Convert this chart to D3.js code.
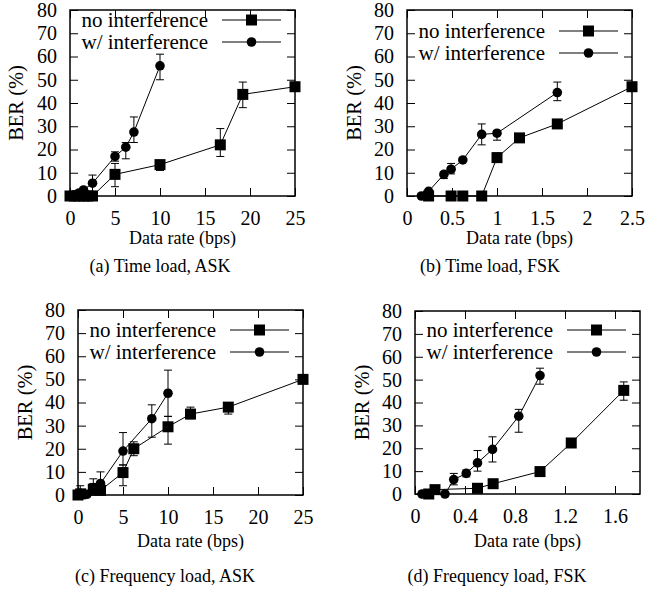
<!DOCTYPE html>
<html><head><meta charset="utf-8">
<script src="https://cdn.jsdelivr.net/npm/d3@7"></script>
<style>
html,body{margin:0;padding:0;background:#fff;}
</style></head>
<body><svg id="chart" width="647" height="595"></svg>
<script>
// ---------- DATA ----------
const yTicks = [0,10,20,30,40,50,60,70,80];
const seriesNames = ["no interference","w/ interference"];
const xLabel = "Data rate (bps)";
const yLabel = "BER (%)";
const captions = ["(a) Time load, ASK","(b) Time load, FSK","(c) Frequency load, ASK","(d) Frequency load, FSK"];

const xTicksA = [0,5,10,15,20,25];
const xTicksB = [0,0.5,1,1.5,2,2.5];
const xTicksC = [0,5,10,15,20,25];
const xTicksD = [0,0.4,0.8,1.2,1.6];

// (a) Time load, ASK
const aNoX  = [0,0.5,1,1.5,2,2.5,5,10,16.7,19.2,25];
const aNoY  = [0,0,0,0,0,0,9.3,13.5,22,43.7,47];
const aNoLo = [null,null,null,null,null,null,4,11,17,38,null];
const aNoHi = [null,null,null,null,null,null,14,15,29,49,null];
const aWX   = [0,0.5,1,1.5,2.5,5,6.2,7.1,10];
const aWY   = [0,0.5,1.3,2.6,5.5,17,21,27.5,56];
const aWLo  = [null,null,null,null,2,15,16,23,50];
const aWHi  = [null,null,null,null,9,19,23,34,61];

// (b) Time load, FSK
const bNoX  = [0.24,0.49,0.62,0.83,1.0,1.25,1.67,2.5];
const bNoY  = [0,0,0,0,16.5,25,31,47];
const bNoLo = [null,null,null,null,15,24,29.5,null];
const bNoHi = [null,null,null,null,18.5,26,32.5,null];
const bWX   = [0.16,0.24,0.41,0.49,0.62,0.83,1.0,1.67];
const bWY   = [0,2,9.3,11.5,15.5,26.5,27,44.5];
const bWLo  = [null,null,7.5,9.5,null,22,24,41];
const bWHi  = [null,null,10.5,14,null,31,28,49];

// (c) Frequency load, ASK
const cNoX  = [0,0.3,1.7,2.5,5,6.2,10,12.5,16.7,25];
const cNoY  = [0,0.5,2.5,2,9.7,20,29.5,35,38,50];
const cNoLo = [null,null,0,null,4,17,22,33,35,null];
const cNoHi = [null,null,5,null,13,23,34,38,40,null];
const cWX   = [0.25,1.0,1.7,2.5,5,8.2,10];
const cWY   = [0.7,0.3,3,5,19,33,44];
const cWLo  = [0,null,0,1,13,25,34];
const cWHi  = [4,null,7,10,27,39,54];

// (d) Frequency load, FSK
const dNoX  = [0.11,0.16,0.5,0.625,1.0,1.25,1.67];
const dNoY  = [0,1.9,2.5,4.5,9.8,22.3,45.3];
const dNoLo = [null,null,null,null,null,21,41];
const dNoHi = [null,null,null,null,null,23.5,49];
const dWX   = [0.056,0.09,0.24,0.31,0.41,0.5,0.62,0.83,1.0];
const dWY   = [0,0,0,6.3,9,13.6,19.5,34,51.8];
const dWLo  = [null,null,null,4,7.5,10,14,27,48];
const dWHi  = [null,null,null,9,10.5,19,25,37,55];

// ---------- LAYOUT ----------
const FONT = "'Liberation Serif','Tinos','Times New Roman',serif";
const panels = [
  {box:[70,295,10,196], xmax:25, ticks:xTicksA, fmt:d3.format("d"), legTop:20, ylabX:16,
   no:[aNoX,aNoY,aNoLo,aNoHi], w:[aWX,aWY,aWLo,aWHi], xlabY:244, capY:272, capX:160},
  {box:[407,632,10,196], xmax:2.5, ticks:xTicksB, fmt:d=>String(d), legTop:31, ylabX:354,
   no:[bNoX,bNoY,bNoLo,bNoHi], w:[bWX,bWY,bWLo,bWHi], xlabY:244, capY:272, capX:490},
  {box:[78,303,310,495], xmax:25, ticks:xTicksC, fmt:d3.format("d"), legTop:330, ylabX:25,
   no:[cNoX,cNoY,cNoLo,cNoHi], w:[cWX,cWY,cWLo,cWHi], xlabY:547, capY:582, capX:165},
  {box:[415,640,311,494], xmax:1.8, ticks:xTicksD, fmt:d=>String(d), legTop:330, ylabX:362,
   no:[dNoX,dNoY,dNoLo,dNoHi], w:[dWX,dWY,dWLo,dWHi], xlabY:547, capY:582, capX:497}
];

const svg = d3.select("#chart");
const TICKFS = 20, LEGFS = 21, YLABFS = 20.5, XLABFS = 18, CAPFS = 18;
const TL = 8, SQ = 11, CR = 4.8, CAP = 4;

function drawMarker(g, type, x, y){
  if(type==="sq") g.append("rect").attr("x",x-SQ/2).attr("y",y-SQ/2).attr("width",SQ).attr("height",SQ).attr("fill","#000");
  else g.append("circle").attr("cx",x).attr("cy",y).attr("r",CR).attr("fill","#000");
}
function txt(sel, size){ return sel.style("font-family",FONT).style("font-size",size+"px").attr("fill","#000"); }

panels.forEach((p,pi)=>{
  const [L,R,T,B] = p.box;
  const x = d3.scaleLinear().domain([0,p.xmax]).range([L,R]);
  const y = d3.scaleLinear().domain([0,80]).range([B,T]);
  const g = svg.append("g");

  g.append("g").attr("transform",`translate(0,${B})`)
    .call(d3.axisBottom(x).tickValues(p.ticks).tickFormat(p.fmt).tickSizeInner(-TL).tickSizeOuter(0).tickPadding(15))
    .call(a=>{a.select(".domain").remove(); txt(a.selectAll("text"),TICKFS);});
  g.append("g").attr("transform",`translate(0,${T})`)
    .call(d3.axisTop(x).tickValues(p.ticks).tickFormat("").tickSizeInner(-TL).tickSizeOuter(0))
    .call(a=>a.select(".domain").remove());
  g.append("g").attr("transform",`translate(${L},0)`)
    .call(d3.axisLeft(y).tickValues(yTicks).tickFormat(d3.format("d")).tickSizeInner(-TL).tickSizeOuter(0).tickPadding(13))
    .call(a=>{a.select(".domain").remove(); txt(a.selectAll("text"),TICKFS);});
  g.append("g").attr("transform",`translate(${R},0)`)
    .call(d3.axisRight(y).tickValues(yTicks).tickFormat("").tickSizeInner(-TL).tickSizeOuter(0))
    .call(a=>a.select(".domain").remove());
  g.selectAll(".tick line").attr("stroke","#000").attr("stroke-width",1);

  g.append("rect").attr("x",L).attr("y",T).attr("width",R-L).attr("height",B-T)
    .attr("fill","none").attr("stroke","#000").attr("stroke-width",1.5);

  [["no","sq"],["w","ci"]].forEach(([key,type])=>{
    const [xs,ys,lo,hi] = p[key];
    const pts = xs.map((v,i)=>({x:v,y:ys[i],lo:lo[i],hi:hi[i]}));
    g.append("path").datum(pts)
      .attr("d",d3.line().x(d=>x(d.x)).y(d=>y(d.y)))
      .attr("fill","none").attr("stroke","#000").attr("stroke-width",1);
    pts.filter(d=>d.lo!==null).forEach(d=>{
      const px=x(d.x);
      g.append("line").attr("x1",px).attr("x2",px).attr("y1",y(d.lo)).attr("y2",y(d.hi)).attr("stroke","#000");
      g.append("line").attr("x1",px-CAP).attr("x2",px+CAP).attr("y1",y(d.lo)).attr("y2",y(d.lo)).attr("stroke","#000");
      g.append("line").attr("x1",px-CAP).attr("x2",px+CAP).attr("y1",y(d.hi)).attr("y2",y(d.hi)).attr("stroke","#000");
    });
    pts.forEach(d=>drawMarker(g,type,x(d.x),y(d.y)));
  });

  const lx1 = R-73, lx2 = R-14;
  seriesNames.forEach((nm,i)=>{
    const ly = p.legTop + i*22;
    txt(g.append("text"),LEGFS).attr("x",lx1-14).attr("y",ly).attr("dy","0.33em").attr("text-anchor","end").text(nm);
    g.append("line").attr("x1",lx1).attr("x2",lx2).attr("y1",ly).attr("y2",ly).attr("stroke","#000");
    drawMarker(g, i===0?"sq":"ci", (lx1+lx2)/2, ly);
  });

  txt(g.append("text"),XLABFS).attr("x",(L+R)/2).attr("y",p.xlabY).attr("text-anchor","middle").text(xLabel);
  txt(g.append("text"),YLABFS).attr("transform",`translate(${p.ylabX},${(T+B)/2}) rotate(-90)`)
    .attr("text-anchor","middle").attr("dy","0.35em").text(yLabel);
  txt(g.append("text"),CAPFS).attr("x",p.capX).attr("y",p.capY).attr("text-anchor","middle").text(captions[pi]);
});
</script></body></html>
